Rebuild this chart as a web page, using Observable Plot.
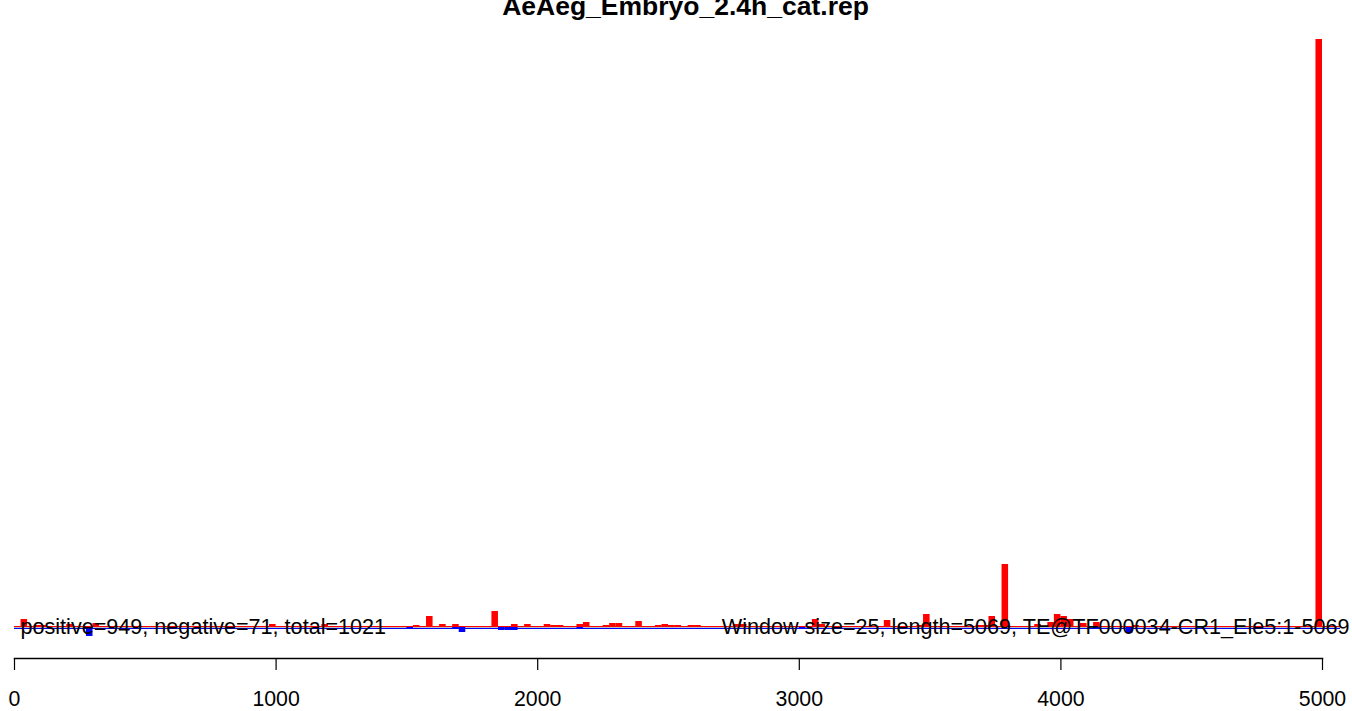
<!DOCTYPE html>
<html>
<head>
<meta charset="utf-8">
<script src="https://cdn.jsdelivr.net/npm/d3@7"></script>
<script src="https://cdn.jsdelivr.net/npm/@observablehq/plot@0.6"></script>
<style>
  html, body { margin: 0; padding: 0; background: #fff; }
  #chart svg { display: block; }
</style>
</head>
<body>
<div id="chart"></div>
<script>
const chartTitle = "AeAeg_Embryo_2.4h_cat.rep";
const leftNote = "positive=949, negative=71, total=1021";
const rightNote = "Window size=25, length=5069, TE@TF000034-CR1_Ele5:1-5069";
const windowSize = 25;
const seqLength = 5069;
const xTicks = [0, 1000, 2000, 3000, 4000, 5000];

// positive-strand reads per window (window start, count)
const posStart = [25, 75, 100, 125, 200, 300, 475, 975, 1175, 1425, 1525, 1575, 1625, 1650, 1675, 1775, 1825, 1850, 1900, 1950,
  2025, 2050, 2075, 2125, 2150, 2175, 2225, 2250, 2275, 2300, 2375, 2450, 2475, 2500, 2525, 2575, 2600, 2650, 2750, 2775,
  3050, 3075, 3200, 3325, 3450, 3475, 3500, 3675, 3700, 3725, 3775, 3900, 3950, 3975, 4000, 4025, 4075, 4125, 4275, 4625, 4650, 4975];
const posCount = [8, 2, 2, 1, 3, 4, 1, 3, 3, 1, 2, 11, 3, 1, 3, 1, 16, 1, 3, 3,
  3, 2, 2, 1, 3, 5, 1, 2, 4, 4, 6, 2, 3, 2, 2, 2, 2, 1, 3, 3,
  8, 3, 1, 7, 2, 13, 1, 2, 2, 11, 63, 3, 5, 13, 11, 8, 4, 5, 2, 1, 1, 588];

// negative-strand reads per window (window start, count)
const negStart = [275, 1500, 1675, 1700, 1850, 1875, 1900, 2150, 3000, 4125, 4250];
const negCount = [9, 2, 2, 5, 3, 3, 3, 2, 1, 1, 6];

const pos = posStart.map((s, i) => ({x1: s, x2: s + windowSize, y: posCount[i]}));
const neg = negStart.map((s, i) => ({x1: s, x2: s + windowSize, y: -negCount[i]}));
const ymax = d3.max(posCount);

const chart = Plot.plot({
  width: 1352,
  height: 711,
  marginLeft: 14,
  marginRight: 30,
  marginTop: 39,
  marginBottom: 53,
  style: {fontFamily: "'Liberation Sans', Arial, sans-serif", background: "#fff", color: "#000"},
  x: {domain: [0, 5000], axis: null},
  y: {domain: [-31, ymax], axis: null},
  marks: [
    Plot.ruleY([0], {x1: 0, x2: seqLength, stroke: "#bebebe", strokeWidth: 1.2}),
    Plot.ruleY([0], {x1: 0, x2: seqLength, stroke: "#ff0000", strokeWidth: 1, dy: -1}),
    Plot.ruleY([0], {x1: 0, x2: seqLength, stroke: "#0000ff", strokeWidth: 1.2, dy: 1}),
    Plot.rectY(pos, {x1: "x1", x2: "x2", y1: 0, y2: "y", fill: "#ff0000", inset: 0}),
    Plot.rectY(neg, {x1: "x1", x2: "x2", y1: 0, y2: "y", fill: "#0000ff", inset: 0}),
    Plot.text([leftNote], {frameAnchor: "left", y: () => 0, dx: 6, textAnchor: "start", lineAnchor: "middle", fontSize: 21.6, fill: "#000"}),
    Plot.text([rightNote], {frameAnchor: "right", y: () => 0, dx: 27, textAnchor: "end", lineAnchor: "middle", fontSize: 21.6, fill: "#000"}),
    Plot.text([chartTitle], {frameAnchor: "top", dx: 17, dy: -33, lineAnchor: "middle", fontSize: 26.5, fontWeight: "bold", fill: "#000"}),
    Plot.frame({anchor: "bottom", stroke: "#000", strokeWidth: 1.5}),
    Plot.axisX({ticks: xTicks, tickSize: 12, tickPadding: 20, fontSize: 21.3, tickFormat: d => String(d), stroke: "#000", strokeWidth: 1.2})
  ]
});
document.getElementById("chart").appendChild(chart);
</script>
</body>
</html>
